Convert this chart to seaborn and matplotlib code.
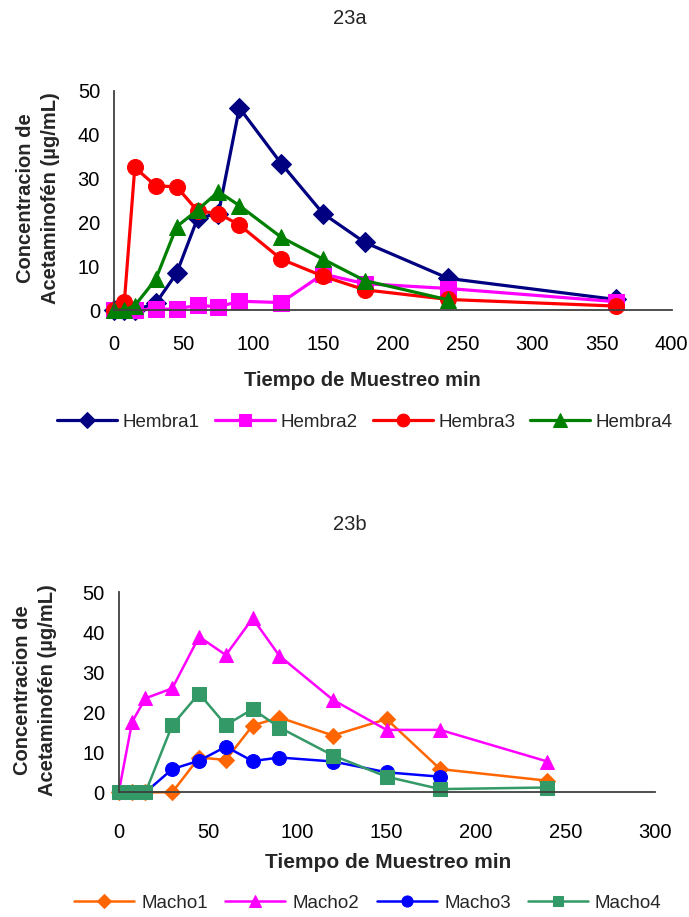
import matplotlib
matplotlib.use("Agg")
import matplotlib.pyplot as plt
import seaborn as sns

# ---------------- data ----------------
tiempo_h = [0, 7.5, 15, 30, 45, 60, 75, 90, 120, 150, 180, 240, 360]
hembra1 = [0, 0, 0, 1.5, 8.4, 20.9, 22.0, 46.1, 33.4, 22.0, 15.4, 7.2, 2.4]
hembra2 = [0, 0, 0, 0.2, 0.2, 1.1, 0.7, 2.0, 1.7, 8.2, 6.0, 4.9, 1.9]
hembra3 = [0, 1.9, 32.5, 28.3, 28.1, 22.6, 22.0, 19.4, 11.6, 7.7, 4.6, 2.4, 0.9]
hembra4 = [0, 0, 1.0, 7.0, 19.0, 22.8, 27.0, 23.8, 16.6, 11.6, 6.7, 2.3]

tiempo_m = [0, 7.5, 15, 30, 45, 60, 75, 90, 120, 150, 180, 240]
macho1 = [0, 0, 0, 0, 8.7, 8.1, 16.7, 18.7, 14.2, 18.3, 5.8, 2.9]
macho2 = [0, 17.6, 23.5, 26.0, 38.9, 34.3, 43.5, 34.1, 23.1, 15.6, 15.6, 7.7]
macho3 = [0, 0, 0, 5.8, 7.9, 11.4, 7.8, 8.7, 7.7, 5.0, 3.9]
macho4 = [0, 0, 0, 16.8, 24.7, 16.8, 20.8, 16.2, 9.2, 3.9, 0.8, 1.2]

labels_h = ["Hembra1", "Hembra2", "Hembra3", "Hembra4"]
labels_m = ["Macho1", "Macho2", "Macho3", "Macho4"]
titles = ["23a", "23b"]
xlabel = "Tiempo de Muestreo min"
ylabel = "Concentracion de\nAcetaminofén (µg/mL)"
xticks_h = [0, 50, 100, 150, 200, 250, 300, 350, 400]
xticks_m = [0, 50, 100, 150, 200, 250, 300]
yticks = [0, 10, 20, 30, 40, 50]

# ---------------- style ----------------
sns.set_theme(style="white")
plt.rcParams["font.family"] = ["Liberation Sans", "DejaVu Sans"]

W, H = 689, 917
fig = plt.figure(figsize=(W / 100, H / 100), dpi=100)

def fx(px):
    return px / W

def fy(py):
    return 1 - py / H

ax1 = fig.add_axes([fx(113.9), fy(310), fx(671.5) - fx(113.9), fy(90.7) - fy(310)])
ax2 = fig.add_axes([fx(118.7), fy(792.3), fx(654.5) - fx(118.7), fy(592.3) - fy(792.3)])

spine_col = "#404040"

def style_axes(ax, xticks, xmax, pad_x):
    ax.set_xlim(0, xmax)
    ax.set_ylim(0, 50)
    ax.set_xticks(xticks)
    ax.set_yticks(yticks)
    for s in ["top", "right"]:
        ax.spines[s].set_visible(False)
    for s in ["left", "bottom"]:
        ax.spines[s].set_color(spine_col)
        ax.spines[s].set_linewidth(1.3)
    ax.tick_params(axis="both", direction="out", length=5, width=1.1,
                   color=spine_col, labelsize=14.5, labelcolor="black")
    ax.tick_params(axis="x", pad=pad_x)
    ax.tick_params(axis="y", pad=5)
    ax.set_xlabel("")
    ax.set_ylabel("")
    ax.patch.set_alpha(0)

series_h = [
    (hembra1, "#000080", "D", 10.5),
    (hembra2, "#FF00FF", "s", 11),
    (hembra3, "#FF0000", "o", 11.5),
    (hembra4, "#008000", "^", 12),
]
for (vals, col, mk, ms), lab in zip(series_h, labels_h):
    sns.lineplot(x=tiempo_h[:len(vals)], y=vals, ax=ax1, color=col, marker=mk,
                 markersize=ms, markeredgecolor=col, linewidth=2.3,
                 label=lab, clip_on=False, legend=False)

series_m = [
    (macho1, "#FF6600", "D", 8.5),
    (macho2, "#FF00FF", "^", 10.5),
    (macho3, "#0000FF", "o", 10),
    (macho4, "#339966", "s", 9.5),
]
for (vals, col, mk, ms), lab in zip(series_m, labels_m):
    sns.lineplot(x=tiempo_m[:len(vals)], y=vals, ax=ax2, color=col, marker=mk,
                 markersize=ms, markeredgecolor=col, linewidth=1.8,
                 label=lab, clip_on=False, legend=False)

style_axes(ax1, xticks_h, 400, 13)
style_axes(ax2, xticks_m, 300, 17)

for ax in (ax1, ax2):
    if ax.get_legend() is not None:
        ax.get_legend().remove()

# titles
fig.text(fx(350), fy(18), titles[0], ha="center", va="center", fontsize=14.5)
fig.text(fx(350), fy(524), titles[1], ha="center", va="center", fontsize=14.5)

# axis labels
fig.text(fx(362), fy(381), xlabel, ha="center", va="center", fontsize=14.5, fontweight="bold")
fig.text(fx(388), fy(862), xlabel, ha="center", va="center", fontsize=15, fontweight="bold")
fig.text(fx(38), fy(198), ylabel, ha="center", va="center", rotation=90,
         fontsize=14.5, fontweight="bold", multialignment="center", linespacing=1.4)
fig.text(fx(35), fy(690), ylabel, ha="center", va="center", rotation=90,
         fontsize=14.5, fontweight="bold", multialignment="center", linespacing=1.4)

# legends
h1, l1 = ax1.get_legend_handles_labels()
fig.legend(h1, l1, loc="center", bbox_to_anchor=(fx(365), fy(422)), ncol=4,
           frameon=False, fontsize=13.5, handlelength=3.2, handletextpad=0.3,
           columnspacing=0.8, markerscale=0.8)
h2, l2 = ax2.get_legend_handles_labels()
fig.legend(h2, l2, loc="center", bbox_to_anchor=(fx(368), fy(903)), ncol=4,
           frameon=False, fontsize=13.5, handlelength=3.2, handletextpad=0.4,
           columnspacing=0.9, markerscale=0.8)

fig.savefig("out.png", dpi=100)
